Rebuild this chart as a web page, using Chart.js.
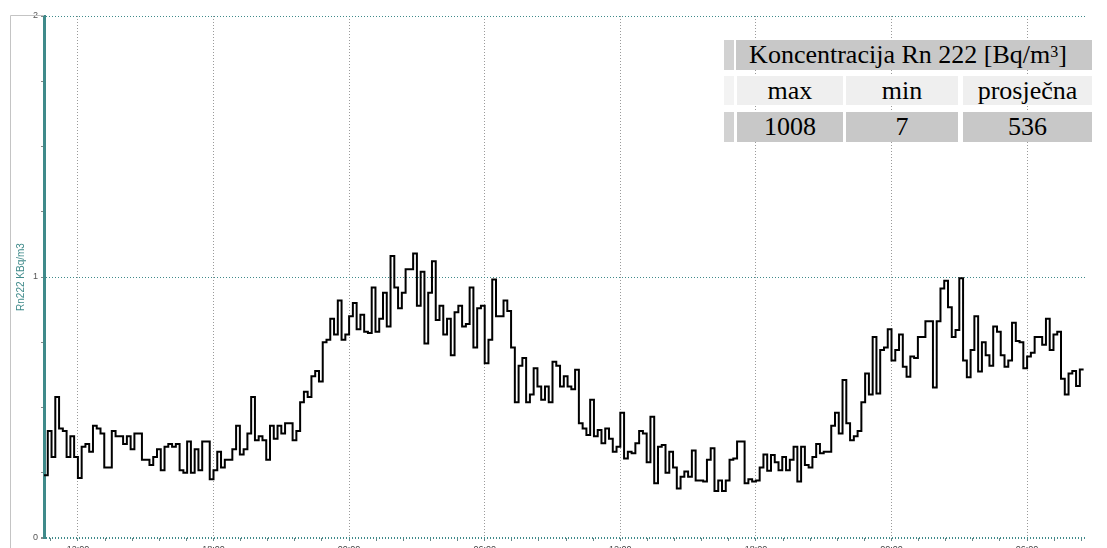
<!DOCTYPE html>
<html>
<head>
<meta charset="utf-8">
<script src="https://cdn.jsdelivr.net/npm/chart.js@4.4.0/dist/chart.umd.min.js"></script>
<style>
  html, body { margin: 0; padding: 0; background: #fff; overflow: hidden; }
  #wrap { position: relative; width: 1107px; height: 548px; }
  #chart { position: absolute; left: 0; top: 0; }
  .cell { position: absolute; display: flex; align-items: center; justify-content: center;
          font-family: "Liberation Serif", "Times New Roman", serif; font-size: 26px; color: #000; white-space: nowrap; }
  sup { font-size: 16px; line-height: 0; position: relative; top: -3px; vertical-align: super; }
</style>
</head>
<body>
<div id="wrap">
  <canvas id="chart" width="1107" height="548"></canvas>
  <div id="tbl"></div>
</div>
<script>
// time axis in hours from midnight of the first day, one reading every 10 minutes
const startHour = 10.5;
const stepMinutes = 10;
const axisEndHour = 56.65;

// Rn222 concentration, KBq/m3
const rn222 = [
  0.24, 0.24, 0.41, 0.31, 0.54, 0.42, 0.41, 0.31, 0.39, 0.31, 0.23, 0.35, 0.36, 0.33, 0.43, 0.42,
  0.40, 0.27, 0.27, 0.41, 0.39, 0.39, 0.36, 0.39, 0.34, 0.40, 0.40, 0.30, 0.30, 0.28, 0.31, 0.34,
  0.26, 0.35, 0.36, 0.35, 0.36, 0.26, 0.25, 0.37, 0.25, 0.34, 0.26, 0.37, 0.37, 0.225, 0.26, 0.33,
  0.27, 0.30, 0.30, 0.34, 0.43, 0.32, 0.34, 0.40, 0.54, 0.375, 0.39, 0.375, 0.30, 0.43,
  0.38, 0.43, 0.40, 0.44, 0.44, 0.375, 0.41, 0.52, 0.56, 0.54, 0.62, 0.64, 0.60, 0.75, 0.76, 0.84,
  0.78, 0.91, 0.76, 0.78, 0.85, 0.90, 0.80, 0.855, 0.79, 0.785, 0.96, 0.79, 0.84, 0.94, 0.81, 1.08,
  0.96, 0.88, 0.94, 1.03, 1.03, 1.09, 0.89, 1.02, 0.745, 0.94, 1.06, 0.835, 0.89, 0.78, 0.84, 0.70,
  0.865, 0.89, 0.81, 0.82, 0.96, 0.73, 0.88, 0.89, 0.67, 0.76, 0.99, 0.85, 0.85, 0.91, 0.87, 0.73,
  0.52, 0.66, 0.69, 0.52, 0.55, 0.65, 0.58, 0.53,
  0.58, 0.52, 0.675, 0.66, 0.58, 0.62, 0.58, 0.57, 0.645, 0.44, 0.42, 0.395, 0.53, 0.39, 0.414, 0.363,
  0.42, 0.38, 0.33, 0.35, 0.48, 0.305, 0.33, 0.325, 0.363, 0.41, 0.40, 0.29, 0.465, 0.21, 0.35, 0.356,
  0.25, 0.33, 0.27, 0.19, 0.235, 0.255, 0.235, 0.335, 0.22, 0.22, 0.216, 0.30, 0.344, 0.18, 0.22, 0.18,
  0.22, 0.30, 0.305, 0.37, 0.37, 0.21, 0.225, 0.216, 0.22, 0.27, 0.32, 0.258, 0.318, 0.29, 0.26, 0.31,
  0.26, 0.30, 0.35, 0.216, 0.35, 0.28, 0.27, 0.31, 0.36, 0.325, 0.33, 0.33,
  0.43, 0.48, 0.40, 0.605, 0.44, 0.375, 0.39, 0.41, 0.52, 0.63, 0.55, 0.77, 0.554, 0.72, 0.73, 0.80,
  0.68, 0.72, 0.78, 0.656, 0.618, 0.695, 0.69, 0.77, 0.77, 0.83, 0.83, 0.577, 0.83, 0.956, 0.986, 0.884,
  0.77, 0.797, 0.995, 0.68, 0.616, 0.72, 0.85, 0.638, 0.75, 0.70, 0.66, 0.81, 0.79, 0.70, 0.656, 0.68,
  0.825, 0.755, 0.75, 0.65, 0.695, 0.71, 0.77, 0.77, 0.74, 0.84, 0.72, 0.78, 0.79, 0.61, 0.55, 0.63,
  0.64, 0.582, 0.646
];

// x axis labels
const majorHours = [12, 18, 24, 30, 36, 42, 48, 54];
const majorLabels = ['12:00', '18:00', '00:00', '06:00', '12:00', '18:00', '00:00', '06:00'];

// table in the corner
const tableTitle = 'Koncentracija Rn 222 [Bq/m<sup>3</sup>]';
const tableHeads = ['max', 'min', 'prosječna'];
const tableValues = ['1008', '7', '536'];

const teal = '#3f8a8a';

function isMajor(v) {
  return majorHours.some(h => Math.abs(h - v) < 1e-6);
}

const points = rn222.map((v, i) => ({ x: startHour + i * stepMinutes / 60, y: v }));

const framePlugin = {
  id: 'frame',
  afterDraw(chart) {
    const ctx = chart.ctx;
    ctx.save();
    ctx.strokeStyle = '#c4c4c4';
    ctx.lineWidth = 1;
    ctx.beginPath();
    ctx.moveTo(10.5, 548);
    ctx.lineTo(10.5, 15.5);
    ctx.lineTo(44, 15.5);
    ctx.stroke();
    ctx.restore();
  }
};

new Chart(document.getElementById('chart'), {
  type: 'line',
  data: {
    datasets: [{
      data: points,
      borderColor: '#000',
      borderWidth: 2,
      pointRadius: 0,
      stepped: 'after',
      fill: false
    }]
  },
  options: {
    responsive: false,
    animation: false,
    layout: { padding: { top: 16, right: 20, left: 0, bottom: 0 } },
    plugins: { legend: { display: false }, tooltip: { enabled: false } },
    scales: {
      x: {
        type: 'linear',
        min: startHour,
        max: axisEndHour,
        afterFit: s => { s.height = 10; },
        border: { display: false, dash: [1, 2] },
        grid: {
          color: c => isMajor(c.tick.value) ? '#9a9a9a' : 'rgba(0,0,0,0)',
          tickColor: '#6a8a8a',
          tickLength: 3
        },
        ticks: {
          stepSize: 1.2,
          includeBounds: false,
          autoSkip: false,
          maxRotation: 0,
          padding: 3,
          color: '#444',
          font: { family: 'Liberation Sans', size: 9 },
          callback: v => {
            const k = majorHours.findIndex(h => Math.abs(h - v) < 1e-6);
            return k >= 0 ? majorLabels[k] : '';
          }
        }
      },
      y: {
        min: 0,
        max: 2,
        afterFit: s => { s.width = 44; },
        border: { display: true, color: teal, width: 3, dash: [1, 2] },
        grid: {
          color: c => Number.isInteger(c.tick.value) ? teal : 'rgba(0,0,0,0)',
          lineWidth: c => c.tick.value === 0 ? 2 : 1,
          tickColor: '#888',
          tickLength: 3
        },
        ticks: {
          stepSize: 0.25,
          padding: 3,
          color: '#555',
          font: { family: 'Liberation Sans', size: 9 },
          callback: v => Number.isInteger(v) ? String(v) : ''
        },
        title: {
          display: true,
          text: 'Rn222 KBq/m3',
          color: teal,
          font: { family: 'Liberation Sans', size: 10 },
          padding: { top: 15, bottom: 0 }
        }
      }
    }
  },
  plugins: [framePlugin]
});

// table cells
const tbl = document.getElementById('tbl');
function box(left, top, w, h, bg, html) {
  const d = document.createElement('div');
  d.className = 'cell';
  d.style.left = left + 'px';
  d.style.top = top + 'px';
  d.style.width = w + 'px';
  d.style.height = h + 'px';
  if (bg) d.style.background = bg;
  if (html) d.innerHTML = html;
  tbl.appendChild(d);
}
const cols = [[737, 106], [846, 112], [963, 129]];
box(724, 40, 10, 30, '#d2d2d2');
box(736, 40, 356, 30, '#c8c8c8');
box(724, 40, 368, 30, null, tableTitle);
box(724, 76, 10, 29, '#f3f3f3');
box(724, 112, 10, 30, '#d2d2d2');
cols.forEach((c, i) => {
  box(c[0], 76, c[1], 29, '#efefef', tableHeads[i]);
  box(c[0], 112, c[1], 30, '#c8c8c8', tableValues[i]);
});
</script>
</body>
</html>
